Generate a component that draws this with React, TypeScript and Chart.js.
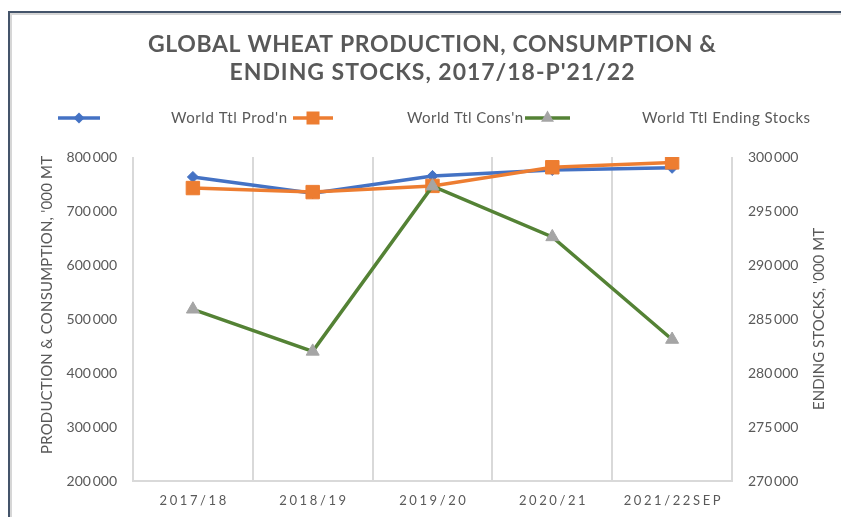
import React, { useEffect, useRef } from 'react';
import { Chart, registerables } from 'chart.js';

Chart.register(...registerables);

// ---------- data ----------
const categories = ['2017/18', '2018/19', '2019/20', '2020/21', '2021/22SEP'];
const production = [763000, 733000, 765000, 776000, 780000];
const consumption = [742500, 735000, 746500, 781000, 790000];
const endingStocks = [285900, 282000, 297300, 292600, 283100];
const seriesNames = ["World Ttl Prod'n", "World Ttl Cons'n", 'World Ttl Ending Stocks'];
const leftTicks = [200000, 300000, 400000, 500000, 600000, 700000, 800000];
const rightTicks = [270000, 275000, 280000, 285000, 290000, 295000, 300000];
const titleLines = ['GLOBAL WHEAT PRODUCTION, CONSUMPTION &', "ENDING STOCKS, 2017/18-P'21/22"];
const leftAxisTitle = "PRODUCTION & CONSUMPTION, '000 MT";
const rightAxisTitle = "ENDING STOCKS, '000 MT";

// ---------- styles ----------
const BLUE = '#4472C4';
const ORANGE = '#ED7D31';
const GREEN = '#548235';
const GREY_MARK = '#A5A5A5';
const TEXT = '#595959';
const GRID = '#d9d9d9';
const FONT = 'Lato, "Open Sans", sans-serif';

const fmt = (v: number) => String(v).replace(/\B(?=(\d{3})+(?!\d))/g, '\u2009');

function drawFitted(ctx: CanvasRenderingContext2D, text: string, x: number, y: number, width: number, align: 'left' | 'center') {
  ctx.letterSpacing = '0px';
  const w0 = ctx.measureText(text).width;
  const n = Array.from(text).length;
  const ls = n > 1 ? (width - w0) / (n - 1) : 0;
  ctx.letterSpacing = ls + 'px';
  ctx.textAlign = 'left';
  const sx = align === 'center' ? x - width / 2 : x;
  ctx.fillText(text, sx, y);
  ctx.letterSpacing = '0px';
}

function drawSpaced(ctx: CanvasRenderingContext2D, text: string, cx: number, y: number, ls: number) {
  ctx.letterSpacing = '0px';
  const w0 = ctx.measureText(text).width;
  const n = Array.from(text).length;
  const w = w0 + (n - 1) * ls;
  ctx.letterSpacing = ls + 'px';
  ctx.textAlign = 'left';
  ctx.fillText(text, cx - w / 2, y);
  ctx.letterSpacing = '0px';
}

function marker(ctx: CanvasRenderingContext2D, kind: string, x: number, y: number, color: string) {
  ctx.fillStyle = color;
  ctx.beginPath();
  if (kind === 'diamond') {
    const r = 5.5;
    ctx.moveTo(x, y - r); ctx.lineTo(x + r, y); ctx.lineTo(x, y + r); ctx.lineTo(x - r, y);
  } else if (kind === 'square') {
    const h = 6.5;
    ctx.rect(x - h, y - h, 2 * h, 2 * h);
  } else {
    const r = 7.5;
    ctx.moveTo(x, y - r); ctx.lineTo(x + r * 0.866, y + r * 0.5); ctx.lineTo(x - r * 0.866, y + r * 0.5);
  }
  ctx.closePath();
  ctx.fill();
}

const decorPlugin = {
  id: 'decor',
  beforeDraw(chart: any) {
    const ctx: CanvasRenderingContext2D = chart.ctx;
    const W = chart.width, H = chart.height;
    ctx.save();
    ctx.fillStyle = '#ffffff';
    ctx.fillRect(0, 0, W, H);
    // frame
    ctx.fillStyle = '#d6d6d6';
    ctx.fillRect(10, 13, W, 2);
    ctx.fillRect(10, 13, 2, H);
    ctx.fillStyle = '#44546A';
    ctx.fillRect(8, 11, W, 2);
    ctx.fillRect(8, 11, 2, H);
    ctx.restore();
  },
  afterDraw(chart: any) {
    const ctx: CanvasRenderingContext2D = chart.ctx;
    ctx.save();
    ctx.fillStyle = TEXT;
    ctx.textBaseline = 'middle';
    // title
    ctx.font = `bold 23px ${FONT}`;
    drawFitted(ctx, titleLines[0], 432, 45, 568, 'center');
    drawFitted(ctx, titleLines[1], 432, 73, 405, 'center');

    // legend
    const ly = 118;
    const items = [
      { x0: 58, x1: 100, color: BLUE, mk: 'diamond', mc: BLUE, tx: 171, tw: 116 },
      { x0: 293, x1: 333, color: ORANGE, mk: 'square', mc: ORANGE, tx: 407, tw: 116 },
      { x0: 525, x1: 570, color: GREEN, mk: 'triangle', mc: GREY_MARK, tx: 642, tw: 168 },
    ];
    items.forEach((it, i) => {
      ctx.strokeStyle = it.color;
      ctx.lineWidth = 3.5;
      ctx.beginPath();
      ctx.moveTo(it.x0, ly);
      ctx.lineTo(it.x1, ly);
      ctx.stroke();
      marker(ctx, it.mk, (it.x0 + it.x1) / 2, ly, it.mc);
      ctx.fillStyle = TEXT;
      ctx.font = `15px ${FONT}`;
      drawFitted(ctx, seriesNames[i], it.tx, ly, it.tw, 'left');
    });

    // axis titles
    ctx.fillStyle = TEXT;
    ctx.font = `15px ${FONT}`;
    ctx.save();
    ctx.translate(47, 305);
    ctx.rotate(-Math.PI / 2);
    drawFitted(ctx, leftAxisTitle, 0, 0, 298, 'center');
    ctx.restore();
    ctx.save();
    ctx.translate(819, 319);
    ctx.rotate(-Math.PI / 2);
    drawFitted(ctx, rightAxisTitle, 0, 0, 182, 'center');
    ctx.restore();

    // x labels
    const xs = chart.scales.x;
    ctx.font = `13px ${FONT}`;
    categories.forEach((c, i) => {
      drawSpaced(ctx, c, xs.getPixelForTick(i), 501, 2.6);
    });
    ctx.restore();
  },
};

export default function App() {
  const ref = useRef<HTMLCanvasElement | null>(null);
  useEffect(() => {
    if (!ref.current) return;
    const chart = new Chart(ref.current, {
      type: 'line',
      data: {
        labels: categories,
        datasets: [
          {
            label: seriesNames[0], data: production, yAxisID: 'y',
            borderColor: BLUE, backgroundColor: BLUE, borderWidth: 3.5,
            pointStyle: 'rectRot', pointRadius: 5.5, pointBorderWidth: 1, pointBorderColor: BLUE, pointBackgroundColor: BLUE,
            order: 3,
          },
          {
            label: seriesNames[1], data: consumption, yAxisID: 'y',
            borderColor: ORANGE, backgroundColor: ORANGE, borderWidth: 3.5,
            pointStyle: 'rect', pointRadius: 9.5, pointBorderWidth: 1, pointBorderColor: ORANGE, pointBackgroundColor: ORANGE,
            order: 2,
          },
          {
            label: seriesNames[2], data: endingStocks, yAxisID: 'y1',
            borderColor: GREEN, backgroundColor: GREEN, borderWidth: 3.5,
            pointStyle: 'triangle', pointRadius: 7.5, pointBorderWidth: 1, pointBorderColor: GREY_MARK, pointBackgroundColor: GREY_MARK,
            order: 1,
          },
        ],
      },
      options: {
        responsive: false,
        animation: false,
        devicePixelRatio: 1,
        layout: { padding: { top: 157, left: 0, right: 0, bottom: 0 } },
        plugins: { legend: { display: false }, title: { display: false }, tooltip: { enabled: false } },
        scales: {
          x: {
            type: 'category',
            offset: true,
            grid: { display: true, color: GRID, lineWidth: 2, offset: true, drawTicks: false },
            border: { display: true, color: GRID, width: 2 },
            ticks: { display: false },
            afterFit: (s: any) => { s.height = 36; },
          },
          y: {
            position: 'left',
            min: leftTicks[0], max: leftTicks[leftTicks.length - 1],
            afterBuildTicks: (s: any) => { s.ticks = leftTicks.map((v) => ({ value: v })); },
            grid: { display: false, drawTicks: false },
            border: { display: false },
            ticks: { color: TEXT, font: { family: FONT, size: 14 }, padding: 16, callback: (v: any) => fmt(Number(v)) },
            afterFit: (s: any) => { s.width = 133; },
          },
          y1: {
            position: 'right',
            min: rightTicks[0], max: rightTicks[rightTicks.length - 1],
            afterBuildTicks: (s: any) => { s.ticks = rightTicks.map((v) => ({ value: v })); },
            grid: { display: false, drawTicks: false },
            border: { display: false },
            ticks: { color: TEXT, font: { family: FONT, size: 14 }, padding: 16, callback: (v: any) => fmt(Number(v)) },
            afterFit: (s: any) => { s.width = 109; },
          },
        },
      },
      plugins: [decorPlugin],
    } as any);
    return () => chart.destroy();
  }, []);
  return (
    <div style={{ position: 'absolute', left: 0, top: 0, width: 841, height: 517, background: '#fff' }}>
      <canvas ref={ref} width={841} height={517} style={{ display: 'block', width: 841, height: 517 }} />
    </div>
  );
}
